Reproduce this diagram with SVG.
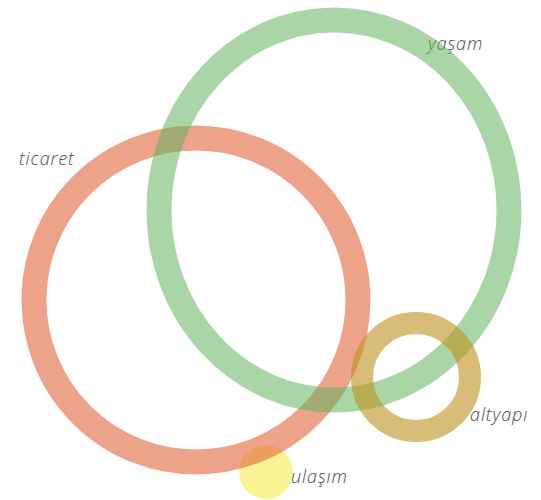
<svg xmlns="http://www.w3.org/2000/svg" width="541" height="500" viewBox="0 0 541 500">
<style>
.lbl{font-family:"Open Sans","Liberation Sans",sans-serif;font-style:italic;font-size:18px;letter-spacing:0.9px;fill:#4a4a4a;font-weight:300}
.ring{fill:none}
</style>
<rect width="541" height="500" fill="#ffffff"/>
<g id="ulasim">
<circle cx="266" cy="472" r="27" fill="rgb(245,235,60)" opacity="0.55"/>
<text class="lbl" x="291" y="483">ulaşım</text>
</g>
<g id="ticaret">
<circle class="ring" cx="196" cy="300" r="162" stroke="rgb(225,100,60)" stroke-width="25" opacity="0.6"/>
<text class="lbl" x="19" y="165">ticaret</text>
</g>
<g id="yasam">
<text class="lbl" x="428" y="50">yaşam</text>
<ellipse class="ring" cx="334" cy="210" rx="175" ry="190" stroke="rgb(100,180,95)" stroke-width="25" opacity="0.55"/>
</g>
<g id="altyapi">
<circle class="ring" cx="416" cy="377" r="54" stroke="rgb(190,145,30)" stroke-width="22" opacity="0.6"/>
<text class="lbl" x="470" y="421">altyapı</text>
</g>
<g id="connectors"></g>
</svg>
